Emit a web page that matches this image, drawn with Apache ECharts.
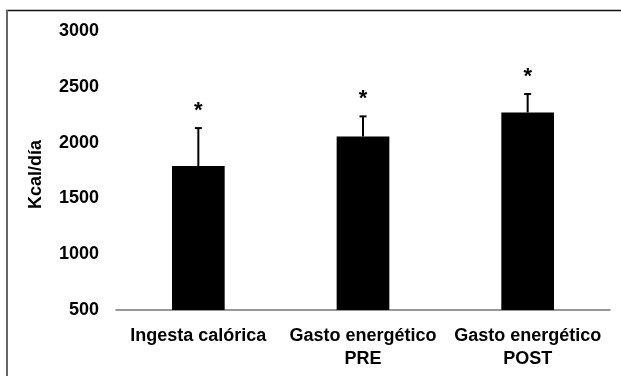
<!DOCTYPE html>
<html>
<head>
<meta charset="utf-8">
<script src="https://cdn.jsdelivr.net/npm/echarts@6/dist/echarts.min.js"></script>
<style>
html,body{margin:0;padding:0;background:#fff;}
#c{width:621px;height:376px;}
</style>
</head>
<body>
<div id="c"></div>
<script>
var categories = ['Ingesta calórica', 'Gasto energético\nPRE', 'Gasto energético\nPOST'];
var values = [1790, 2055, 2270];
var errors = [340, 180, 165];
var marks = ['*', '*', '*'];
var yTicks = [500, 1000, 1500, 2000, 2500, 3000];

var FONT = '"Liberation Sans", Arial, sans-serif';
var chart = echarts.init(document.getElementById('c'));
var errData = values.map(function (v, i) { return [i, v, v + errors[i], marks[i]]; });

chart.setOption({
  animation: false,
  backgroundColor: '#fff',
  graphic: [
    { type: 'line', shape: { x1: 6, y1: 10.5, x2: 621, y2: 10.5 }, style: { stroke: '#111', lineWidth: 1.5 } },
    { type: 'line', shape: { x1: 7, y1: 10, x2: 7, y2: 376 }, style: { stroke: '#666', lineWidth: 2 } }
  ],
  grid: { left: 116, right: 11, top: 31, bottom: 66, containLabel: false },
  xAxis: {
    type: 'category',
    data: categories,
    axisLine: { lineStyle: { color: '#777', width: 1.5 } },
    axisTick: { show: false },
    axisLabel: { color: '#000', fontFamily: FONT, fontWeight: 'bold', fontSize: 18, lineHeight: 23, margin: 15, interval: 0 }
  },
  yAxis: {
    type: 'value',
    min: yTicks[0], max: yTicks[yTicks.length - 1], interval: 500,
    name: 'Kcal/día',
    nameLocation: 'middle',
    nameGap: 71,
    nameRotate: 90,
    nameTextStyle: { color: '#000', fontFamily: FONT, fontWeight: 'bold', fontSize: 18, padding: [0, 0, 0, -8] },
    axisLine: { show: false },
    axisTick: { show: false },
    splitLine: { show: false },
    axisLabel: { color: '#000', fontFamily: FONT, fontWeight: 'bold', fontSize: 18, margin: 17, formatter: function (v) { return String(v); } }
  },
  series: [
    {
      type: 'bar',
      data: values,
      barWidth: '32%',
      itemStyle: { color: '#000' },
      z: 2
    },
    {
      type: 'custom',
      data: errData,
      z: 3,
      renderItem: function (params, api) {
        var x = api.value(0);
        var lo = api.coord([x, api.value(1)]);
        var hi = api.coord([x, api.value(2)]);
        return {
          type: 'group',
          children: [
            { type: 'line', shape: { x1: lo[0], y1: lo[1], x2: hi[0], y2: hi[1] }, style: { stroke: '#000', lineWidth: 2 } },
            { type: 'line', shape: { x1: hi[0] - 3.5, y1: hi[1], x2: hi[0] + 3.5, y2: hi[1] }, style: { stroke: '#000', lineWidth: 2 } },
            { type: 'text', style: { x: hi[0], y: hi[1] - 17, text: api.value(3), fill: '#000', font: 'bold 22px ' + FONT, align: 'center', verticalAlign: 'middle' } }
          ]
        };
      }
    }
  ]
});
</script>
</body>
</html>
